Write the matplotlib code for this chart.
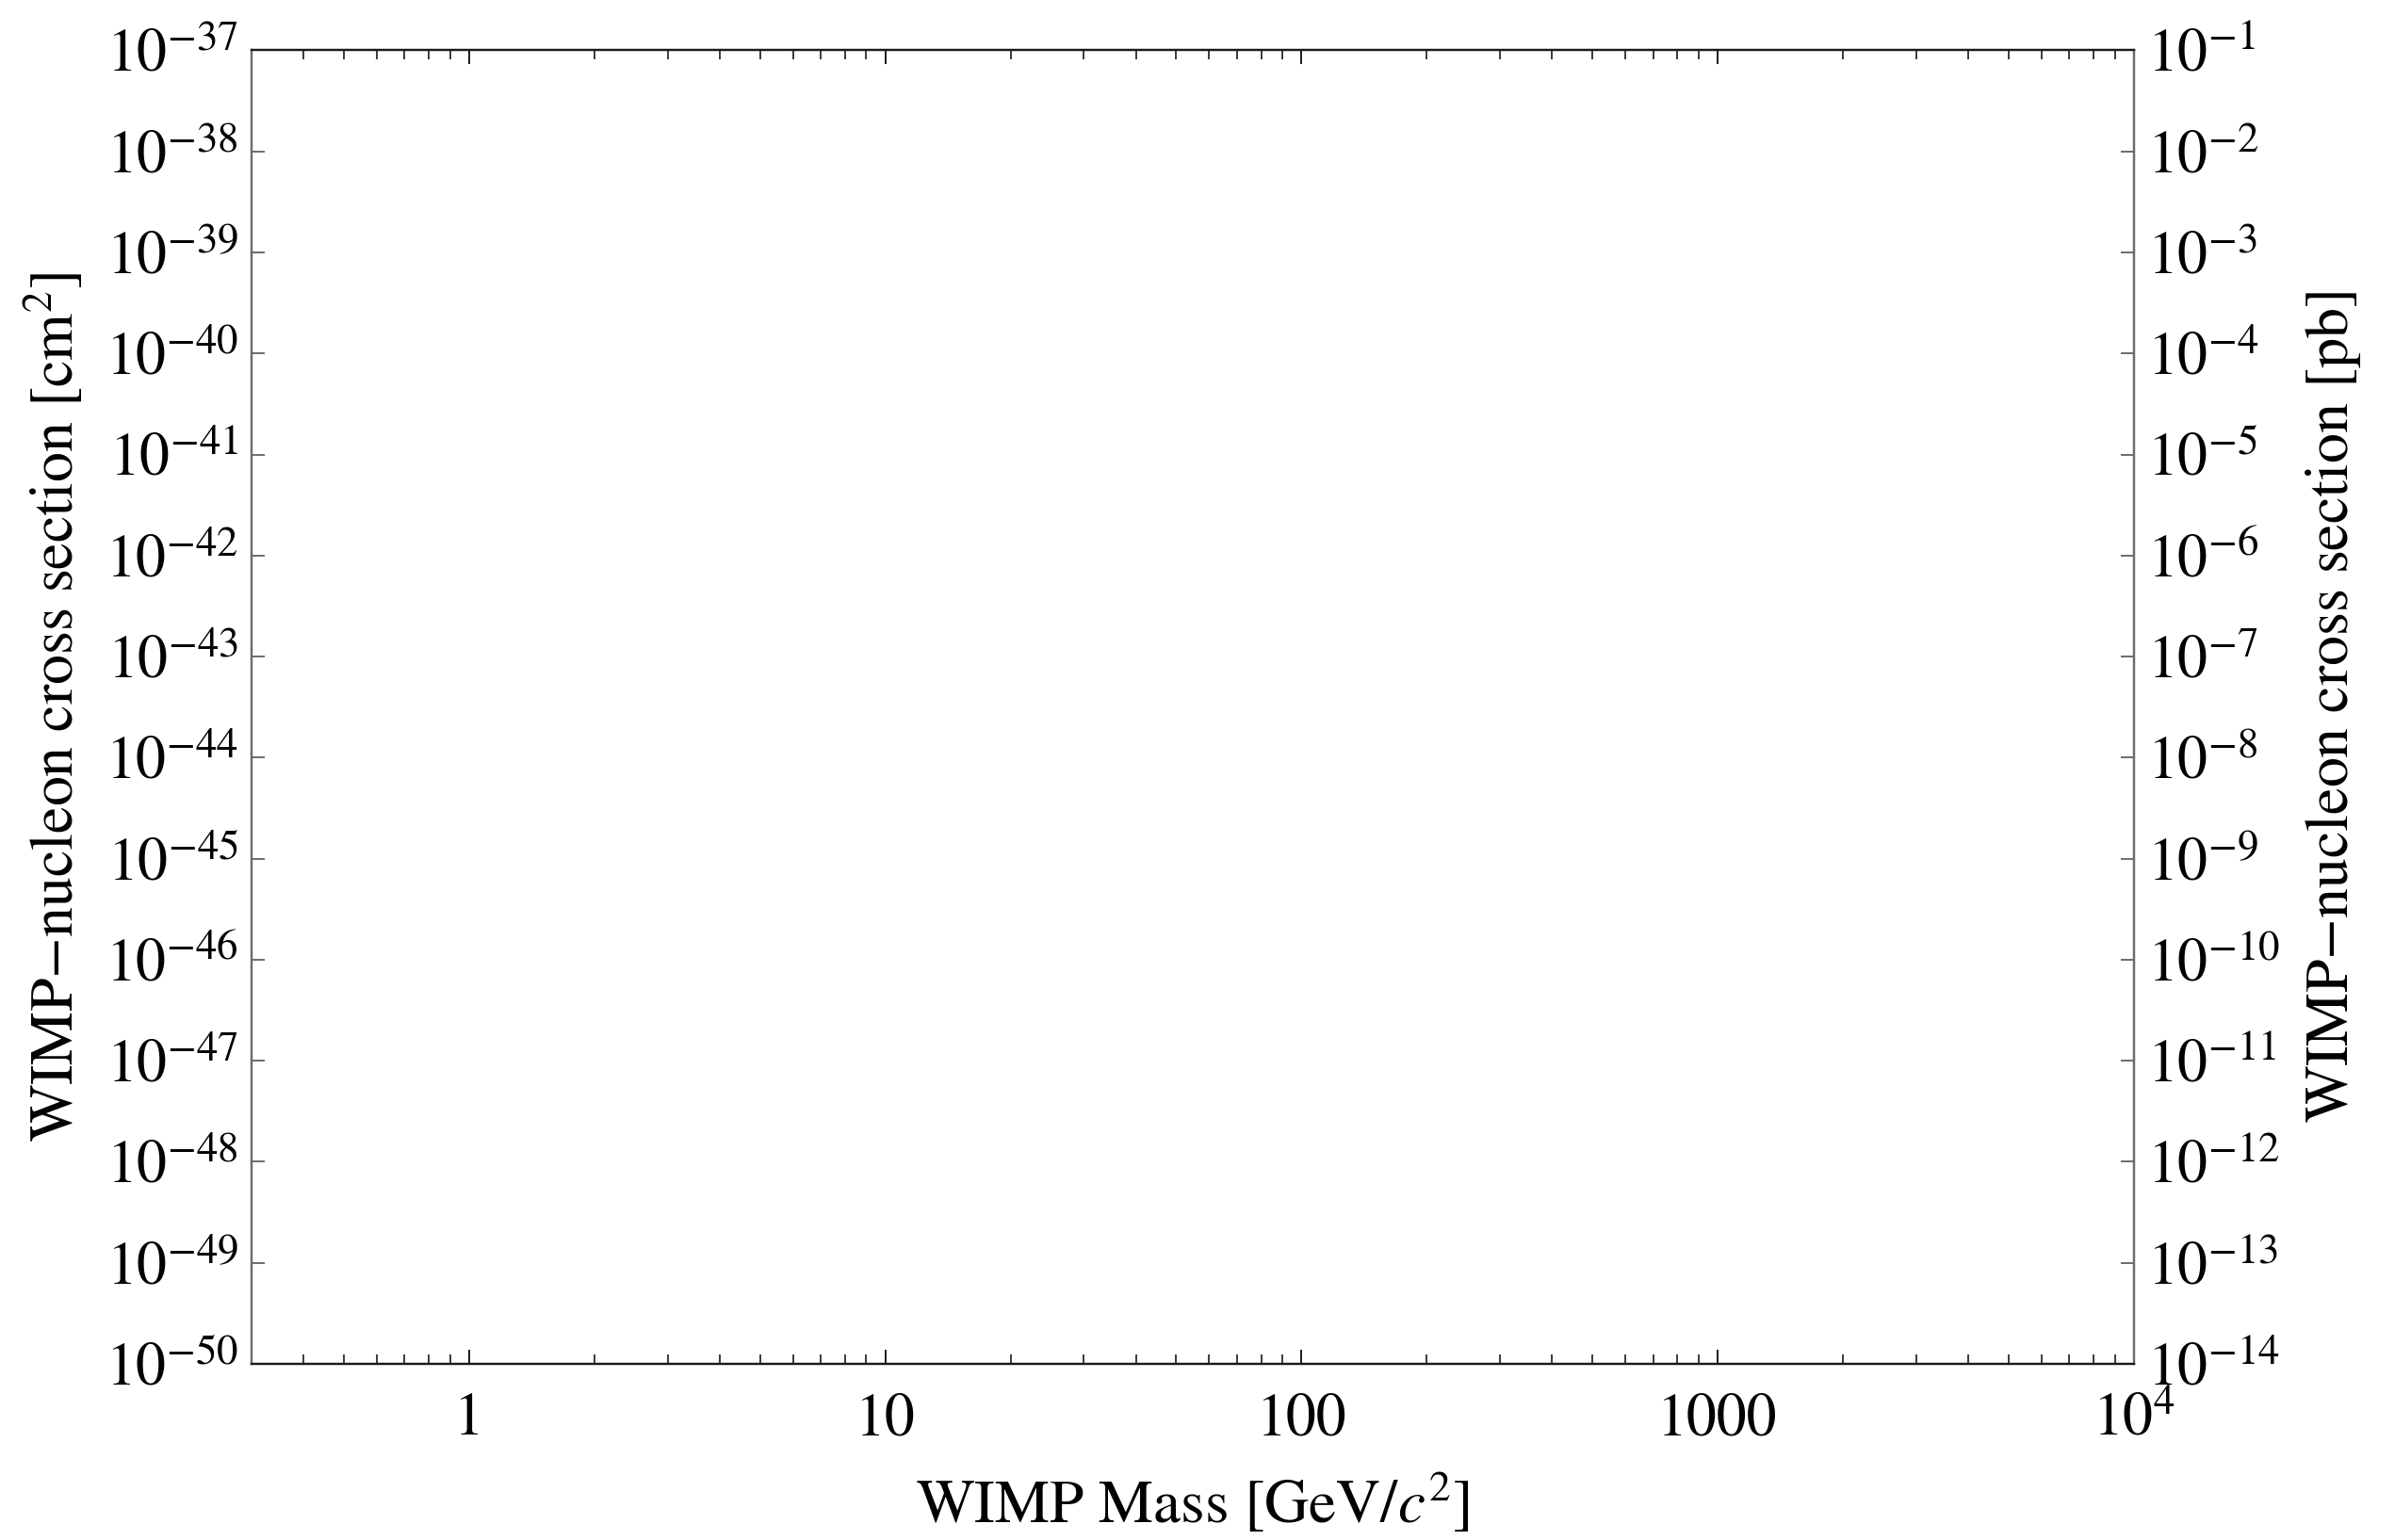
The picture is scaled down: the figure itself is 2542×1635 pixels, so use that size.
import matplotlib
matplotlib.use("Agg")
import matplotlib.pyplot as plt
from matplotlib.ticker import FixedLocator, LogLocator, NullFormatter, NullLocator

# Times-like look, as in the original Mathematica frame
plt.rcParams['font.family'] = 'STIXGeneral'
plt.rcParams['mathtext.fontset'] = 'stix'

# ---------------------------------------------------------------------------
# Axis data (the plot itself is empty: only the frame and scales are drawn)
# ---------------------------------------------------------------------------
mass_range = [0.3, 1e4]                    # GeV/c^2
xsec_range_cm2 = [1e-50, 1e-37]            # cm^2
CM2_TO_PB = 1e36                           # 1 pb = 1e-36 cm^2

mass_ticks = [1, 10, 100, 1000, 10000]
mass_tick_labels = ['1', '10', '100', '1000', r'$10^{4}$']

cm2_exponents = list(range(-50, -36))      # 10^-50 ... 10^-37
pb_exponents = list(range(-14, 0))         # 10^-14 ... 10^-1

FS = 46
SPINE_X = '#1a1a1a'
SPINE_Y = '#6b6b6b'

fig = plt.figure(figsize=(25.42, 16.35), dpi=100)
ax = fig.add_axes([0.105, 0.1144, 0.786, 0.8529])

ax.set_xscale('log')
ax.set_yscale('log')
ax.set_xlim(*mass_range)
ax.set_ylim(*xsec_range_cm2)

# x axis: major + minor ticks, mirrored on top
ax.xaxis.set_major_locator(FixedLocator(mass_ticks))
ax.set_xticklabels(mass_tick_labels)
ax.xaxis.set_minor_locator(LogLocator(base=10, subs=range(2, 10), numticks=50))
ax.xaxis.set_minor_formatter(NullFormatter())
ax.tick_params(axis='x', which='major', direction='in', length=11, width=1.4,
               color=SPINE_X, top=True, labelsize=FS, pad=22)
ax.tick_params(axis='x', which='minor', direction='in', length=7, width=1.2,
               color=SPINE_X, top=True)

# left y axis in cm^2
ax.yaxis.set_major_locator(FixedLocator([10.0 ** e for e in cm2_exponents]))
ax.set_yticklabels([rf'$10^{{{e}}}$' for e in cm2_exponents])
ax.yaxis.set_minor_locator(NullLocator())
ax.tick_params(axis='y', which='major', direction='in', length=10, width=1.4,
               color=SPINE_Y, right=False, labelsize=FS, pad=10)
ax.set_ylabel(r'WIMP$-$nucleon cross section [cm$^{2}$]', fontsize=FS, labelpad=14)
ax.set_xlabel(r'WIMP Mass [GeV/$c^{2}$]', fontsize=47, labelpad=18)

# right y axis in pb
ax2 = ax.twinx()
ax2.set_yscale('log')
ax2.set_ylim(xsec_range_cm2[0] * CM2_TO_PB, xsec_range_cm2[1] * CM2_TO_PB)
ax2.yaxis.set_major_locator(FixedLocator([10.0 ** e for e in pb_exponents]))
ax2.set_yticklabels([rf'$10^{{{e}}}$' for e in pb_exponents])
ax2.yaxis.set_minor_locator(NullLocator())
ax2.tick_params(axis='y', which='major', direction='in', length=10, width=1.4,
                color=SPINE_Y, labelsize=FS, pad=10)
ax2.set_ylabel(r'WIMP$-$nucleon cross section [pb]', fontsize=FS, labelpad=18)

for a in (ax, ax2):
    a.spines['top'].set_color(SPINE_X)
    a.spines['bottom'].set_color(SPINE_X)
    a.spines['left'].set_color(SPINE_Y)
    a.spines['right'].set_color(SPINE_Y)
    for s in a.spines.values():
        s.set_linewidth(1.6)

fig.savefig('out.png', dpi=100, facecolor='white')
